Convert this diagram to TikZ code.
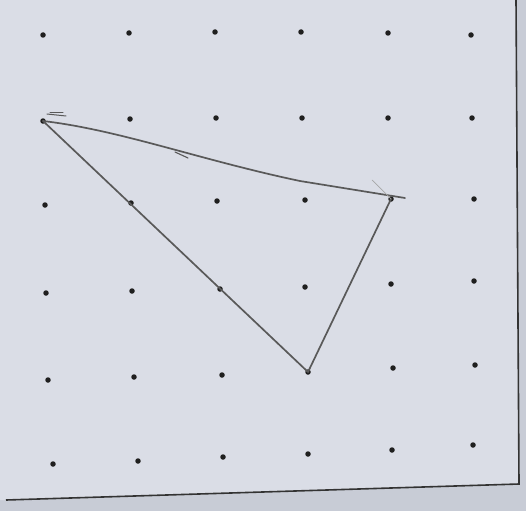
\documentclass[tikz,border=0pt]{standalone}
\begin{document}
\begin{tikzpicture}[x=1pt,y=-1pt,
  dot/.style={circle,fill=black!88,inner sep=0pt,minimum size=5.5pt},
  pen/.style={draw=black!65,line width=1.7pt,line cap=round,line join=round},
  faint/.style={draw=black!35,line width=0.7pt,line cap=round},
  border/.style={draw=black!80,line width=1.6pt}]
\useasboundingbox (0,0) rectangle (526,511);
\fill[color={rgb,255:red,200;green,204;blue,214}] (0,0) rectangle (526,511);
\coordinate (bl) at (6,500);
\coordinate (br) at (519,484);
\coordinate (tr) at (516,0);
\fill[color={rgb,255:red,218;green,221;blue,230}] (0,0) -- (tr) -- (br) -- (bl) -- (0,500) -- cycle;
\draw[border] (tr) -- (br) -- (bl);
% dots
\foreach \r/\pts in {1/{43/35,129/33,215/32,301/32,388/33,471/35},
                     2/{43/121,130/119,216/118,302/118,388/118,472/118},
                     3/{45/205,131/203,217/201,305/200,391/199,474/199},
                     4/{46/293,132/291,220/289,305/287,391/284,474/281},
                     5/{48/380,134/377,222/375,308/372,393/368,475/365},
                     6/{53/464,138/461,223/457,308/454,392/450,473/445}}{
  \foreach \x/\y [count=\c] in \pts { \node[dot] (d\r\c) at (\x,\y) {}; }
}
% triangle
\coordinate (ext) at (405,198);
\draw[pen] (d21.center) .. controls (120,130) and (200,160) .. (300,181) -- (ext);
\draw[pen] (d21.center) -- (d54.center) -- (d35.center);
% small strokes
\coordinate (s1a) at (47,114); \coordinate (s1b) at (66,116);
\draw[pen,line width=1pt] (s1a) -- (s1b);
\coordinate (s1c) at (50,112); \coordinate (s1d) at (63,112);
\draw[pen,line width=1pt] (s1c) -- (s1d);
\coordinate (s2a) at (175,152); \coordinate (s2b) at (188,158);
\draw[pen,line width=1.1pt] (s2a) -- (s2b);
\coordinate (s3a) at (372,180);
\draw[faint] (s3a) -- (d35.center);
\end{tikzpicture}
\end{document}
